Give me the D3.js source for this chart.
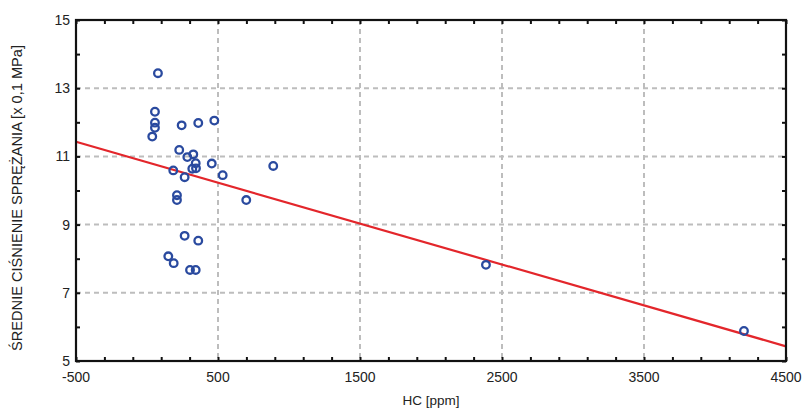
<!DOCTYPE html>
<html><head><meta charset="utf-8">
<script src="https://cdn.jsdelivr.net/npm/d3@7"></script>
<style>body{margin:0;background:#fff}svg{display:block}text{font-family:"Liberation Sans",Arial,sans-serif;fill:#222}</style>
</head><body>
<script>
const hcValues = [77,56,56,56,37,244,361,474,227,284,326,343,319,345,456,185,265,533,889,699,211,211,265,361,150,188,303,343,2387,4204];
const pressureValues = [13.44,12.31,11.99,11.84,11.58,11.91,11.98,12.05,11.19,10.98,11.06,10.80,10.64,10.65,10.79,10.59,10.39,10.45,10.72,9.72,9.86,9.72,8.67,8.53,8.07,7.87,7.67,7.67,7.82,5.88];
const fitX = [-500, 4500];
const fitY = [11.43, 5.43];
const xTickLabels = [-500, 500, 1500, 2500, 3500, 4500];
const yTickLabels = [5, 7, 9, 11, 13, 15];
const xGrid = [500, 1500, 2500, 3500];
const yGrid = [7, 9, 11, 13];
const xTitle = "HC [ppm]";
const yTitle = "ŚREDNIE CIŚNIENIE SPRĘŻANIA [x 0,1 MPa]";

const W = 804, H = 410;
const m = {l:76, r:786, t:20, b:361};
const svg = d3.select("body").append("svg").attr("width", W).attr("height", H);
const x = d3.scaleLinear().domain([-500, 4500]).range([m.l, m.r]);
const y = d3.scaleLinear().domain([5, 15]).range([m.b, m.t]);

// grid
const g = svg.append("g");
g.selectAll(".gx").data(xGrid).join("line")
  .attr("x1", d => x(d)).attr("x2", d => x(d)).attr("y1", m.t).attr("y2", m.b)
  .attr("stroke", "#bdbdbd").attr("stroke-width", 2).attr("stroke-dasharray", "5,4");
g.selectAll(".gy").data(yGrid).join("line")
  .attr("y1", d => y(d)).attr("y2", d => y(d)).attr("x1", m.l).attr("x2", m.r)
  .attr("stroke", "#bdbdbd").attr("stroke-width", 2).attr("stroke-dasharray", "5,4");

// fit line
svg.append("line")
  .attr("x1", x(fitX[0])).attr("y1", y(fitY[0]))
  .attr("x2", x(fitX[1])).attr("y2", y(fitY[1]))
  .attr("stroke", "#e3262b").attr("stroke-width", 2.2);

// points
svg.append("g").selectAll("circle").data(hcValues.map((v,i)=>[v, pressureValues[i]])).join("circle")
  .attr("cx", d => x(d[0])).attr("cy", d => y(d[1])).attr("r", 3.8)
  .attr("fill", "none").attr("stroke", "#2a4a9f").attr("stroke-width", 2.3);

// axes with inward ticks
const xMinor = d3.range(-500, 4501, 200);
const yMinor = d3.range(5, 15.01, 1);
const axB = svg.append("g").attr("transform", `translate(0,${m.b})`)
  .call(d3.axisBottom(x).tickValues(xMinor).tickSize(-4).tickFormat(""));
const axT = svg.append("g").attr("transform", `translate(0,${m.t})`)
  .call(d3.axisTop(x).tickValues(xMinor).tickSize(-4).tickFormat(""));
const axL = svg.append("g").attr("transform", `translate(${m.l},0)`)
  .call(d3.axisLeft(y).tickValues(yMinor).tickSize(-4).tickFormat(""));
const axR = svg.append("g").attr("transform", `translate(${m.r},0)`)
  .call(d3.axisRight(y).tickValues(yMinor).tickSize(-4).tickFormat(""));
[axB, axT, axL, axR].forEach(a => {
  a.select(".domain").remove();
  a.selectAll(".tick line").attr("stroke", "#111").attr("stroke-width", 2);
});
svg.append("rect").attr("x", m.l).attr("y", m.t).attr("width", m.r - m.l).attr("height", m.b - m.t)
  .attr("fill", "none").attr("stroke", "#111").attr("stroke-width", 2.2);

// tick labels
svg.append("g").selectAll("text").data(xTickLabels).join("text")
  .attr("x", d => x(d)).attr("y", 382).attr("text-anchor", "middle")
  .attr("font-size", 14).text(d => d);
svg.append("g").selectAll("text").data(yTickLabels).join("text")
  .attr("x", 70).attr("y", d => y(d) + 5).attr("text-anchor", "end")
  .attr("font-size", 14).text(d => d);

// titles
svg.append("text").attr("x", 431).attr("y", 405).attr("text-anchor", "middle")
  .attr("font-size", 13.5).text(xTitle);
svg.append("text").attr("transform", "translate(22,198) rotate(-90)").attr("text-anchor", "middle")
  .attr("font-size", 14).attr("textLength", 306).attr("lengthAdjust", "spacingAndGlyphs").text(yTitle);
</script>
</body></html>
